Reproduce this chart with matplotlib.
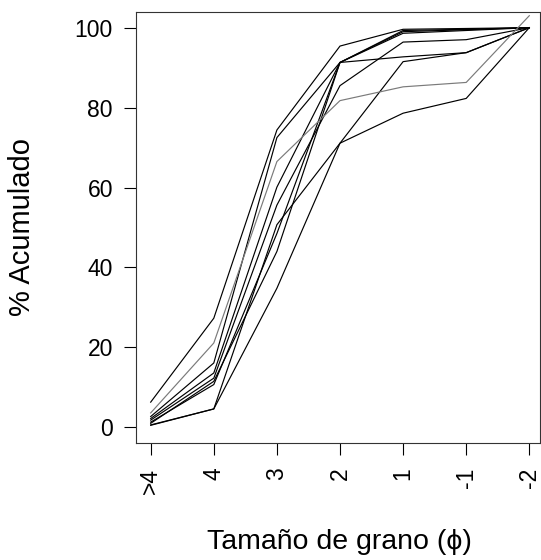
import matplotlib
matplotlib.use("Agg")
import matplotlib.pyplot as plt

categories = [">4", "4", "3", "2", "1", "-1", "-2"]

serie_a = [6.3, 27.3, 74.4, 95.4, 99.6, 99.8, 100]
serie_g = [3.6, 21.1, 66.5, 81.75, 85.2, 86.3, 103]
serie_b = [2.7, 16.1, 72.5, 91.3, 99.3, 99.6, 100]
serie_c = [2.2, 13.6, 60.1, 91.3, 99.0, 99.5, 100]
serie_i = [1.8, 12.3, 55.6, 85.5, 96.4, 97.0, 100]
serie_h = [1.3, 10.7, 48.5, 91.3, 98.6, 99.3, 100]
serie_f = [1.0, 11.5, 44.0, 91.3, 92.7, 93.75, 100]
serie_e = [0.6, 4.6, 50.7, 71.1, 91.5, 93.75, 100]
serie_d = [0.5, 4.6, 34.8, 71.1, 78.6, 82.3, 100]

black_series = [serie_a, serie_b, serie_c, serie_i, serie_h, serie_f, serie_e, serie_d]
gray_series = [serie_g]

plt.rcParams['font.family'] = ['Liberation Sans', 'DejaVu Sans']

fig = plt.figure(figsize=(5.41, 5.60), dpi=100)
L, R, T, B = 136, 540, 11.7, 443.3
W, H = 541, 560
ax = fig.add_axes([L / W, 1 - B / H, (R - L) / W, (B - T) / H])

x = list(range(1, len(categories) + 1))
for s in black_series:
    ax.plot(x, s, color='black', linewidth=0.85)
for s in gray_series:
    ax.plot(x, s, color='#7a7a7a', linewidth=0.85)

ax.set_xlim(1 - 14.7 / 63.1, 7 + 10.7 / 63.1)
ax.set_ylim(-4, 104)
ax.set_xticks(x)
ax.set_xticklabels(categories, rotation=90, va='top', ha='center')
ax.set_yticks([0, 20, 40, 60, 80, 100])
ax.tick_params(axis='both', direction='out', length=8.6, width=0.8,
               labelsize=16.5, colors='black')
ax.tick_params(axis='y', pad=8)
ax.tick_params(axis='x', pad=9)
for sp in ax.spines.values():
    sp.set_linewidth(0.8)
    sp.set_color('#333333')

fig.text(22 / W, 1 - 227.5 / H, "% Acumulado", rotation=90, ha='center',
         va='center', fontsize=21)
fig.text(339.5 / W, 1 - 542 / H, "Tamaño de grano (ϕ)", ha='center',
         va='center', fontsize=20.5, family=['Liberation Sans', 'DejaVu Sans'])

fig.savefig("out.png", dpi=100)
